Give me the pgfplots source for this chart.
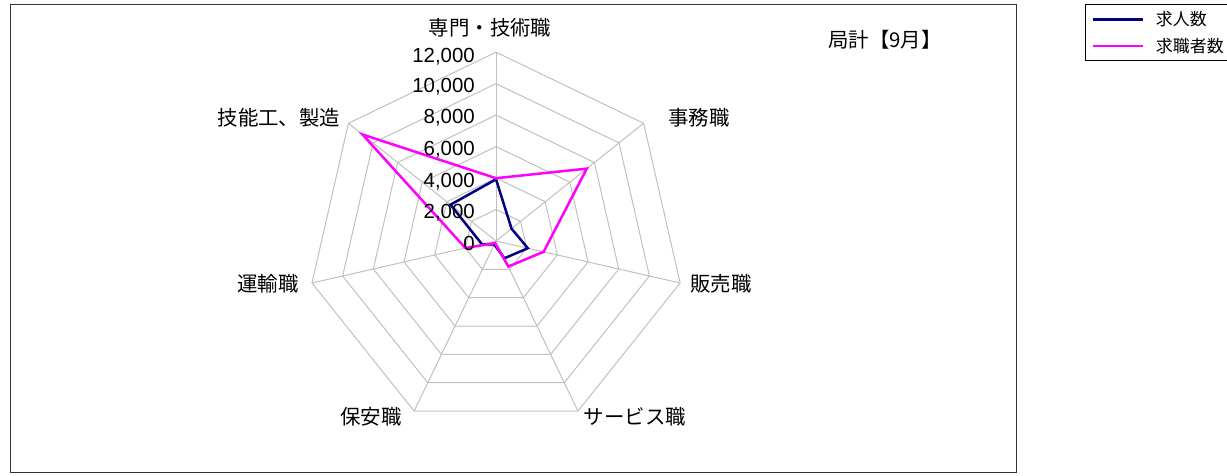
\documentclass[border=0pt]{standalone}
\usepackage{pgfplots}
\pgfplotsset{compat=1.18}
\usepackage{fontspec}
\setmainfont{Liberation Sans}
\newfontfamily\jp{Noto Sans CJK JP}
\definecolor{navyc}{RGB}{0,0,128}
\definecolor{magc}{RGB}{255,0,255}
\definecolor{gridc}{RGB}{192,192,192}
\begin{document}
\begin{tikzpicture}
\begin{axis}[at={(0,0)}, anchor=south west, scale only axis,
  width=1227bp, height=476bp,
  xmin=-31526, xmax=46462, ymin=-14937, ymax=15318,
  hide axis, clip=false,
  legend cell align=left,
  legend image code/.code={\draw[#1] (0bp,0bp) -- (50bp,0bp);},
  legend style={at={(0.8843,0.9916)}, anchor=north west, draw=black, line width=0.8bp,
    font=\jp\fontsize{17}{20}\selectfont, inner xsep=6bp, inner ysep=5bp,
    row sep=7bp, nodes={inner sep=2bp},
    /tikz/every odd column/.append style={column sep=10bp}},
]
% grid heptagons
\addplot[gridc, line width=1bp, forget plot, data cs=polar] coordinates {(90,2000) (38.571,2000) (-12.857,2000) (-64.286,2000) (-115.714,2000) (-167.143,2000) (141.429,2000) (90,2000)};
\addplot[gridc, line width=1bp, forget plot, data cs=polar] coordinates {(90,4000) (38.571,4000) (-12.857,4000) (-64.286,4000) (-115.714,4000) (-167.143,4000) (141.429,4000) (90,4000)};
\addplot[gridc, line width=1bp, forget plot, data cs=polar] coordinates {(90,6000) (38.571,6000) (-12.857,6000) (-64.286,6000) (-115.714,6000) (-167.143,6000) (141.429,6000) (90,6000)};
\addplot[gridc, line width=1bp, forget plot, data cs=polar] coordinates {(90,8000) (38.571,8000) (-12.857,8000) (-64.286,8000) (-115.714,8000) (-167.143,8000) (141.429,8000) (90,8000)};
\addplot[gridc, line width=1bp, forget plot, data cs=polar] coordinates {(90,10000) (38.571,10000) (-12.857,10000) (-64.286,10000) (-115.714,10000) (-167.143,10000) (141.429,10000) (90,10000)};
\addplot[gridc, line width=1bp, forget plot, data cs=polar] coordinates {(90,12000) (38.571,12000) (-12.857,12000) (-64.286,12000) (-115.714,12000) (-167.143,12000) (141.429,12000) (90,12000)};
% spokes
\addplot[gridc, line width=1bp, forget plot, data cs=polar] coordinates {(90,0) (90,12000)};
\addplot[gridc, line width=1bp, forget plot, data cs=polar] coordinates {(38.571,0) (38.571,12000)};
\addplot[gridc, line width=1bp, forget plot, data cs=polar] coordinates {(-12.857,0) (-12.857,12000)};
\addplot[gridc, line width=1bp, forget plot, data cs=polar] coordinates {(-64.286,0) (-64.286,12000)};
\addplot[gridc, line width=1bp, forget plot, data cs=polar] coordinates {(-115.714,0) (-115.714,12000)};
\addplot[gridc, line width=1bp, forget plot, data cs=polar] coordinates {(-167.143,0) (-167.143,12000)};
\addplot[gridc, line width=1bp, forget plot, data cs=polar] coordinates {(141.429,0) (141.429,12000)};
% data
\addplot[navyc, line width=2.5bp, data cs=polar] coordinates {(90,3920) (38.571,1260) (-12.857,2070) (-64.286,1220) (-115.714,250) (-167.143,920) (141.429,3700) (90,3920)};
\addlegendentry{求人数}
\addplot[magc, line width=2.5bp, data cs=polar] coordinates {(90,3990) (38.571,7380) (-12.857,3100) (-64.286,1800) (-115.714,150) (-167.143,2000) (141.429,10860) (90,3990)};
\addlegendentry{求職者数}
\end{axis}
\begin{scope}[shift={(0bp,476bp)}, x=1bp, y=-1bp]
\draw[black!80, line width=0.8bp] (10,4) rectangle (1016,472);
\begin{scope}[every node/.style={inner sep=0pt, font=\fontsize{20.5}{24}\selectfont}]
\node[anchor=east] at (475,243) {0};
\node[anchor=east] at (475,213) {2,000};
\node[anchor=east] at (475,182) {4,000};
\node[anchor=east] at (475,150) {6,000};
\node[anchor=east] at (475,118) {8,000};
\node[anchor=east] at (475,87) {10,000};
\node[anchor=east] at (475,57) {12,000};
\end{scope}
\begin{scope}[every node/.style={inner sep=0pt, font=\jp\fontsize{20.5}{24}\selectfont}]
\node at (490,28) {専門・技術職};
\node at (699,118) {事務職};
\node at (721,284) {販売職};
\node at (635,417) {サービス職};
\node at (371,417) {保安職};
\node at (268,284) {運輸職};
\node at (279,118) {技能工、製造};
\node at (885,40) {局計【9月】};
\end{scope}
\end{scope}
\pgfresetboundingbox
\useasboundingbox (0,0) rectangle (1227bp,476bp);
\end{tikzpicture}
\end{document}
